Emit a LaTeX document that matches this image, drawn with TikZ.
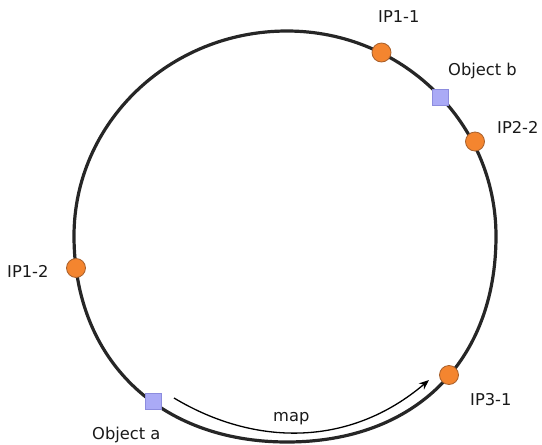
\documentclass[tikz,border=0pt]{standalone}
\usepackage{fontspec}
\setmainfont{DejaVu Sans}
\usetikzlibrary{arrows.meta}
\definecolor{nodeorange}{HTML}{F4852F}
\definecolor{nodeedge}{HTML}{A8602C}
\definecolor{objfill}{HTML}{AAAAF6}
\definecolor{objedge}{HTML}{8C8CDE}
\tikzset{
  ring/.style={line width=3.2pt, draw=black!85},
  server/.style={circle, minimum size=19pt, inner sep=0pt, fill=nodeorange, draw=nodeedge, line width=0.8pt},
  object/.style={rectangle, minimum size=16pt, inner sep=0pt, fill=objfill, draw=objedge, line width=0.8pt},
  lbl/.style={anchor=base west, inner sep=0pt, font=\fontsize{16.3}{20}\selectfont, text=black!90},
  maparrow/.style={line width=1.3pt, -{Stealth[length=10pt,width=8pt]}}
}
\begin{document}
\begin{tikzpicture}[x=1pt, y=-1pt]
  \useasboundingbox (0,0) rectangle (542,445);
  % hash ring: round on top, slightly fuller towards the bottom
  \coordinate (ringE) at (496,236);
  \coordinate (ringN) at (287,31);
  \coordinate (ringW) at (74,236);
  \coordinate (ringS) at (287,442);
  \draw[ring] (ringE)
    .. controls (496,122.8) and (402.4,31) .. (ringN)
    .. controls (169.4,31) and (74,122.8) .. (ringW)
    .. controls (74,359.6) and (159.2,442) .. (ringS)
    .. controls (414.5,442) and (496,361.7) .. (ringE) -- cycle;
  % server points on the ring
  \node[server] (ip11) at (381.5,52.5) {};
  \node[server] (ip22) at (475,141.5) {};
  \node[server] (ip12) at (76,268) {};
  \node[server] (ip31) at (449,375) {};
  % objects on the ring
  \node[object] (objb) at (440,97.5) {};
  \node[object] (obja) at (153.5,401.5) {};
  % labels
  \node[lbl] (tip11) at (378,22) {IP1-1};
  \node[lbl] (tobjb) at (448,75) {Object b};
  \node[lbl] (tip22) at (497,133) {IP2-2};
  \node[lbl] (tip12) at (7,277) {IP1-2};
  \node[lbl] (tip31) at (470,405) {IP3-1};
  \node[lbl] (tobja) at (92,439) {Object a};
  \node[lbl] (tmap) at (273,421) {map};
  % mapping arrow from object a to the next server clockwise
  \coordinate (mapstart) at (174,398);
  \coordinate (mapend) at (429,380);
  \draw[maparrow] (mapstart) .. controls (254,446) and (349,448) .. (mapend);
\end{tikzpicture}
\end{document}
